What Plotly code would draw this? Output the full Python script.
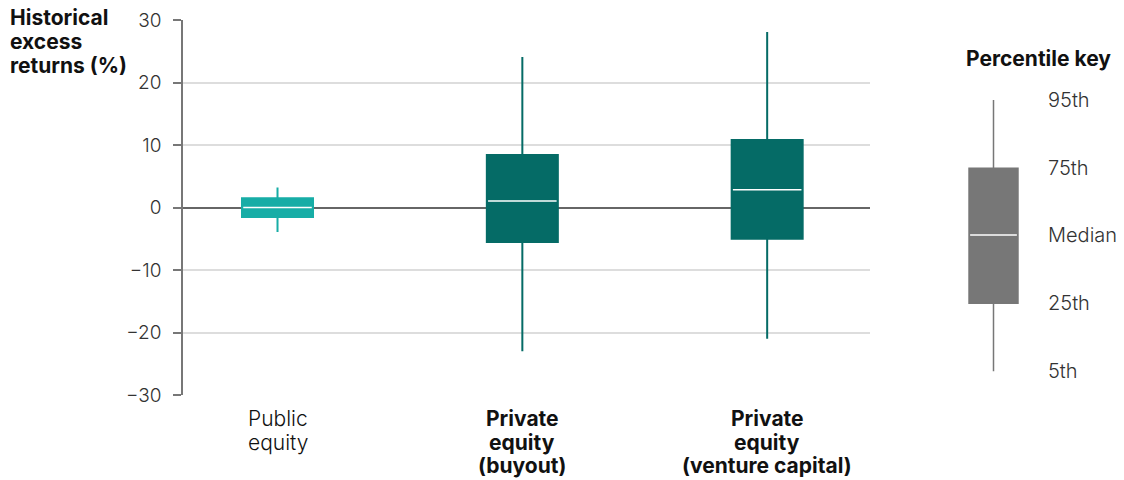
import plotly.graph_objects as go

categories = ["Public<br>equity", "Private<br>equity<br>(buyout)", "Private<br>equity<br>(venture capital)"]
category_bold = [False, True, True]
cat_pos = [0, 1, 2]
p5 = [-3.9, -23.0, -21.0]
p25 = [-1.5, -5.5, -5.0]
median = [0.0, 1.05, 2.85]
p75 = [1.5, 8.4, 10.8]
p95 = [3.2, 24.1, 28.1]
colors = ["#17ada6", "#056b66", "#056b66"]

key_labels = ["95th", "75th", "Median", "25th", "5th"]
key_values = [17.2, 6.3, -4.4, -15.3, -26.2]  # p95, p75, median, p25, p5

y_ticks = [-30, -20, -10, 0, 10, 20, 30]
y_ticktext = ["\u221230", "\u221220", "\u221210", "0", "10", "20", "30"]

y_title_lines = ["Historical", "excess", "returns (%)"]
key_title = "Percentile key"

BOX_W = 0.29
KEY_W = 0.445
FONT = "Inter"

W, H = 1124, 480
L, T, B, R = 183, 20, 85, 0
PW = W - L - R
PH = H - T - B


def px(x):
    return (x - L) / PW


def py(y):
    return 1 - (y - T) / PH


LINE = 23.5

fig = go.Figure()
for i in range(len(cat_pos)):
    fig.add_trace(go.Box(
        x=[cat_pos[i]], q1=[p25[i]], median=[median[i]], q3=[p75[i]],
        lowerfence=[p5[i]], upperfence=[p95[i]],
        width=BOX_W, whiskerwidth=0, fillcolor=colors[i],
        line=dict(color=colors[i], width=2), boxpoints=False,
        hoverinfo="skip", showlegend=False,
    ))
    fig.add_trace(go.Scatter(
        x=[cat_pos[i] - BOX_W / 2 + 0.005, cat_pos[i] + BOX_W / 2 - 0.005],
        y=[median[i], median[i]], mode="lines",
        line=dict(color="#ffffff", width=1.5), hoverinfo="skip", showlegend=False,
    ))
    # category label, one annotation per line
    for j, line in enumerate(categories[i].split("<br>")):
        fig.add_annotation(
            x=cat_pos[i], xref="x", y=py(418.5 + j * LINE), yref="paper",
            text=f"<b>{line}</b>" if category_bold[i] else line,
            showarrow=False, xanchor="center", yanchor="middle",
            font=dict(family=FONT, size=21, color="#111111",
                      weight=700 if category_bold[i] else 300),
        )

# percentile key
fig.add_trace(go.Box(
    x=[0], q1=[key_values[3]], median=[key_values[2]], q3=[key_values[1]],
    lowerfence=[key_values[4]], upperfence=[key_values[0]],
    width=KEY_W, whiskerwidth=0, fillcolor="#777777",
    line=dict(color="#777777", width=1.5), boxpoints=False,
    xaxis="x2", yaxis="y2", hoverinfo="skip", showlegend=False,
))
fig.add_trace(go.Scatter(
    x=[-KEY_W / 2 + 0.01, KEY_W / 2 - 0.01], y=[key_values[2], key_values[2]],
    mode="lines", line=dict(color="#ffffff", width=1.5),
    xaxis="x2", yaxis="y2", hoverinfo="skip", showlegend=False,
))

for lab, v in zip(key_labels, key_values):
    fig.add_annotation(
        x=px(1046), xref="paper", y=v, yref="y2", text=lab, showarrow=False,
        xanchor="left", yanchor="middle",
        font=dict(family=FONT, size=20, color="#333333", weight=300),
    )

fig.add_annotation(
    x=px(1038.5), xref="paper", y=py(59), yref="paper",
    text=f"<b>{key_title}</b>", showarrow=False, xanchor="center", yanchor="middle",
    font=dict(family=FONT, size=21, color="#111111"),
)

for j, line in enumerate(y_title_lines):
    fig.add_annotation(
        x=px(8), xref="paper", y=py(18 + j * LINE), yref="paper",
        text=f"<b>{line}</b>", showarrow=False, xanchor="left", yanchor="middle",
        font=dict(family=FONT, size=21, color="#111111"),
    )

fig.update_layout(
    width=W, height=H,
    margin=dict(l=L, r=R, t=T, b=B),
    paper_bgcolor="white", plot_bgcolor="white",
    font=dict(family=FONT, size=19, color="#333333"),
    xaxis=dict(
        domain=[0, px(870)], range=[-0.386, 2.42],
        tickmode="array", tickvals=cat_pos, showticklabels=False,
        showgrid=False, zeroline=False, showline=False, ticks="",
    ),
    yaxis=dict(
        range=[-30, 30], tickmode="array", tickvals=y_ticks, ticktext=y_ticktext,
        showgrid=True, gridcolor="#dddddd", gridwidth=1.5,
        zeroline=True, zerolinecolor="#666666", zerolinewidth=2,
        showline=True, linecolor="#777777", linewidth=1.5,
        ticks="outside", ticklen=8, tickcolor="#777777", tickwidth=1.5,
        tickfont=dict(family=FONT, size=19, color="#333333", weight=300),
        ticklabelstandoff=8,
    ),
    xaxis2=dict(domain=[px(938.5), px(1048.5)], range=[-0.5, 0.5], anchor="y2",
                showgrid=False, zeroline=False, showline=False, showticklabels=False, ticks=""),
    yaxis2=dict(range=[-30, 30], anchor="x2", overlaying="y", showgrid=False,
                zeroline=False, showline=False, showticklabels=False, ticks=""),
)

fig.write_html("out.html", config={"displayModeBar": False},
               post_script="document.body.style.margin='0px';")
